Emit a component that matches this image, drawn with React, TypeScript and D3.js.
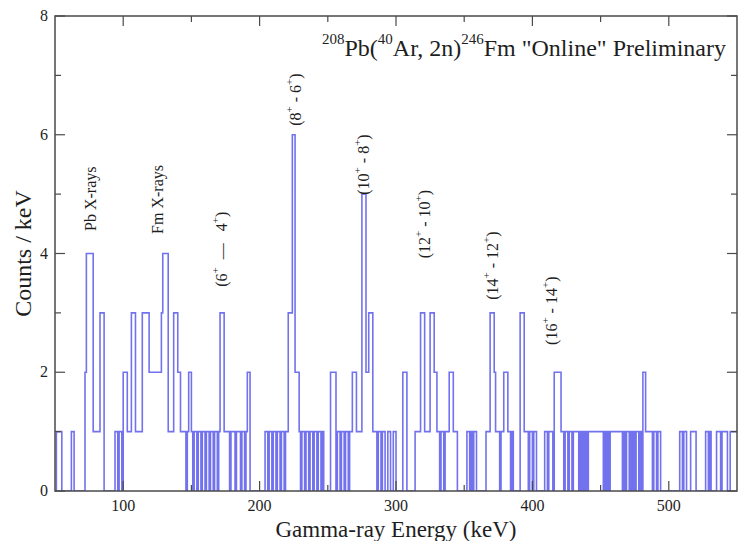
import React from 'react';
import * as d3 from 'd3';

// ---- data: counts per 1-keV bin, starting at 50 keV ----
const energyStart = 50;
const binWidth = 1;
const counts050 = [
  0, 1, 1, 1, 1, 0, 0, 0, 0, 0, 0, 0, 1, 1, 0, 0, 0, 0, 0, 0, 0, 0, 2, 4, 4, 4, 4, 4, 1, 1,
  1, 1, 1, 3, 3, 3, 0, 0, 0, 0, 0, 0, 0, 0, 1, 1, 0, 1, 1, 0,
];
const counts100 = [
  2, 2, 2, 1, 1, 1, 3, 3, 3, 1, 1, 1, 1, 1, 3, 3, 3, 3, 3, 2, 2, 2, 2, 2, 2, 2, 2, 2, 3, 4,
  4, 4, 4, 1, 1, 1, 1, 3, 3, 3, 2, 2, 1, 1, 1, 1, 0, 1, 2, 2,
];
const counts150 = [
  1, 0, 1, 1, 0, 1, 1, 0, 1, 1, 0, 1, 1, 0, 1, 1, 0, 1, 1, 0, 1, 3, 3, 3, 1, 1, 1, 1, 0, 1,
  1, 1, 0, 1, 1, 1, 0, 1, 1, 0, 1, 2, 2, 0, 0, 0, 0, 0, 0, 0,
];
const counts200 = [
  0, 0, 0, 0, 1, 1, 0, 1, 1, 0, 1, 1, 0, 1, 1, 0, 1, 1, 0, 1, 1, 3, 3, 3, 6, 6, 2, 2, 2, 1,
  0, 1, 1, 0, 1, 1, 0, 1, 1, 0, 1, 1, 0, 1, 1, 0, 1, 0, 0, 0,
];
const counts250 = [
  0, 0, 2, 2, 2, 2, 0, 1, 1, 0, 1, 1, 0, 1, 1, 0, 1, 1, 2, 2, 2, 1, 1, 1, 1, 5, 5, 5, 2, 2,
  3, 3, 3, 1, 1, 1, 0, 1, 1, 0, 1, 1, 0, 0, 1, 1, 0, 0, 1, 1,
];
const counts300 = [
  0, 0, 0, 0, 0, 2, 2, 2, 0, 0, 0, 0, 0, 0, 1, 1, 1, 1, 3, 3, 3, 1, 1, 1, 1, 3, 3, 3, 2, 2,
  1, 1, 0, 1, 1, 0, 1, 1, 1, 2, 2, 2, 1, 1, 1, 0, 0, 0, 0, 0,
];
const counts350 = [
  0, 0, 1, 1, 0, 1, 0, 1, 1, 0, 0, 0, 0, 0, 0, 0, 1, 1, 1, 3, 3, 3, 2, 1, 1, 1, 0, 1, 1, 2,
  2, 2, 1, 1, 0, 1, 0, 0, 0, 0, 0, 3, 3, 3, 1, 1, 1, 0, 1, 1,
];
const counts400 = [
  0, 1, 1, 0, 0, 0, 0, 0, 0, 1, 1, 0, 1, 1, 1, 0, 2, 2, 2, 2, 2, 1, 1, 0, 1, 1, 0, 1, 1, 0,
  1, 1, 1, 1, 0, 1, 0, 1, 0, 1, 0, 1, 1, 1, 1, 1, 1, 1, 1, 1,
];
const counts450 = [
  1, 1, 0, 1, 0, 1, 0, 1, 1, 1, 1, 1, 1, 1, 1, 1, 0, 1, 0, 1, 1, 0, 1, 0, 1, 0, 1, 1, 0, 1,
  0, 2, 2, 1, 1, 1, 1, 1, 0, 1, 1, 0, 1, 1, 0, 0, 0, 0, 0, 0,
];
const counts500 = [
  0, 0, 0, 0, 0, 0, 0, 0, 1, 1, 0, 1, 1, 0, 0, 0, 1, 1, 1, 1, 0, 0, 0, 0, 0, 0, 0, 1, 1, 0,
  1, 0, 0, 0, 0, 1, 1, 1, 0, 1, 1, 1, 1, 0, 0, 1, 1, 1, 1, 1,
];

const xDomain = [50, 550];
const yDomain = [0, 8];
const xMajorTicks = [100, 200, 300, 400, 500];
const xMinorTicks = [150, 250, 350, 450];
const yMajorTicks = [0, 2, 4, 6, 8];
const yMinorTicks = [1, 3, 5, 7];

// peak annotations: [main, sup, middle, sup, close], anchored at (energy, count)
const peakLabelEnergy = [80, 129, 176, 230.5, 280, 325, 375, 418];
const peakLabelCount = [4.38, 4.33, 3.44, 6.15, 4.99, 3.92, 3.22, 2.46];
const peakLabelText: string[][] = [
  ['Pb X-rays'],
  ['Fm X-rays'],
  ['(6', '+', '\u00a0\u00a0\u2014\u00a0\u00a0\u00a04', '+', ')'],
  ['(8', '+', ' - 6', '+', ')'],
  ['(10', '+', ' - 8', '+', ')'],
  ['(12', '+', ' - 10', '+', ')'],
  ['(14', '+', ' - 12', '+', ')'],
  ['(16', '+', ' - 14', '+', ')'],
];

const titleParts = [
  { t: '208', sup: true },
  { t: 'Pb(', sup: false },
  { t: '40', sup: true },
  { t: 'Ar, 2n)', sup: false },
  { t: '246', sup: true },
  { t: 'Fm "Online" Preliminary', sup: false },
];

const W = 748;
const H = 541;
const M = { left: 55, right: 737, top: 16, bottom: 491 };
const FONT = '"Liberation Serif", "Times New Roman", serif';
const LINE = '#7272ee';
const AXIS = '#4a4a4a';
const TEXT = '#1e1e1e';

export default function App() {
  const counts = [
    ...counts050, ...counts100, ...counts150, ...counts200, ...counts250,
    ...counts300, ...counts350, ...counts400, ...counts450, ...counts500,
  ];
  const x = d3.scaleLinear().domain(xDomain).range([M.left, M.right]);
  const y = d3.scaleLinear().domain(yDomain).range([M.bottom, M.top]);

  const pts: [number, number][] = counts.map((c, i) => [energyStart + i * binWidth, c]);
  pts.push([energyStart + counts.length * binWidth, counts[counts.length - 1]]);
  const path = d3
    .line<[number, number]>()
    .x((d) => x(d[0]))
    .y((d) => y(d[1]))
    .curve(d3.curveStepAfter)(pts) as string;

  const majorLen = 10;
  const minorLen = 6;

  return (
    <svg
      width={W}
      height={H}
      style={{ position: 'absolute', left: 0, top: 0, background: '#fff' }}
      fontFamily={FONT}
    >
      <defs>
        <clipPath id="plotclip">
          <rect x={M.left} y={M.top} width={M.right - M.left} height={M.bottom - M.top} />
        </clipPath>
      </defs>
      <path d={path} fill="none" stroke={LINE} strokeWidth={1.6} clipPath="url(#plotclip)" />

      {/* frame */}
      <rect
        x={M.left}
        y={M.top}
        width={M.right - M.left}
        height={M.bottom - M.top}
        fill="none"
        stroke={AXIS}
        strokeWidth={1.5}
      />

      {/* x ticks */}
      {xMajorTicks.map((v) => (
        <g key={'xM' + v}>
          <line x1={x(v)} x2={x(v)} y1={M.bottom} y2={M.bottom - majorLen} stroke={AXIS} strokeWidth={1.2} />
          <line x1={x(v)} x2={x(v)} y1={M.top} y2={M.top + majorLen} stroke={AXIS} strokeWidth={1.2} />
          <text x={x(v)} y={511} textAnchor="middle" fontSize={16} fill={TEXT}>
            {v}
          </text>
        </g>
      ))}
      {xMinorTicks.map((v) => (
        <g key={'xm' + v}>
          <line x1={x(v)} x2={x(v)} y1={M.bottom} y2={M.bottom - minorLen} stroke={AXIS} strokeWidth={1.2} />
          <line x1={x(v)} x2={x(v)} y1={M.top} y2={M.top + minorLen} stroke={AXIS} strokeWidth={1.2} />
        </g>
      ))}

      {/* y ticks */}
      {yMajorTicks.map((v) => (
        <g key={'yM' + v}>
          <line x1={M.left} x2={M.left + majorLen} y1={y(v)} y2={y(v)} stroke={AXIS} strokeWidth={1.2} />
          <line x1={M.right} x2={M.right - majorLen} y1={y(v)} y2={y(v)} stroke={AXIS} strokeWidth={1.2} />
          <text x={48} y={y(v) + 5} textAnchor="end" fontSize={16} fill={TEXT}>
            {v}
          </text>
        </g>
      ))}
      {yMinorTicks.map((v) => (
        <g key={'ym' + v}>
          <line x1={M.left} x2={M.left + minorLen} y1={y(v)} y2={y(v)} stroke={AXIS} strokeWidth={1.2} />
          <line x1={M.right} x2={M.right - minorLen} y1={y(v)} y2={y(v)} stroke={AXIS} strokeWidth={1.2} />
        </g>
      ))}

      {/* axis titles */}
      <text x={(M.left + M.right) / 2} y={537} textAnchor="middle" fontSize={23} fill={TEXT}>
        Gamma-ray Energy (keV)
      </text>
      <text
        transform={`translate(31, ${(M.top + M.bottom) / 2}) rotate(-90)`}
        textAnchor="middle"
        fontSize={24}
        fill={TEXT}
      >
        Counts / keV
      </text>

      {/* title */}
      <text x={322} y={56} fontSize={24} fill={TEXT}>
        {titleParts.map((p, i) =>
          p.sup ? (
            <tspan key={i} fontSize={15} dy={-12}>
              {p.t}
            </tspan>
          ) : (
            <tspan key={i} dy={i === 0 ? 0 : 12}>
              {p.t}
            </tspan>
          )
        )}
      </text>

      {/* peak labels */}
      {peakLabelText.map((parts, i) => (
        <text
          key={'pl' + i}
          transform={`translate(${x(peakLabelEnergy[i])}, ${y(peakLabelCount[i])}) rotate(-90)`}
          fontSize={16}
          fill={TEXT}
        >
          {parts.map((p, j) =>
            j % 2 === 1 ? (
              <tspan key={j} fontSize={11} dy={-8}>
                {p}
              </tspan>
            ) : (
              <tspan key={j} dy={j === 0 ? 0 : 8}>
                {p}
              </tspan>
            )
          )}
        </text>
      ))}
    </svg>
  );
}
